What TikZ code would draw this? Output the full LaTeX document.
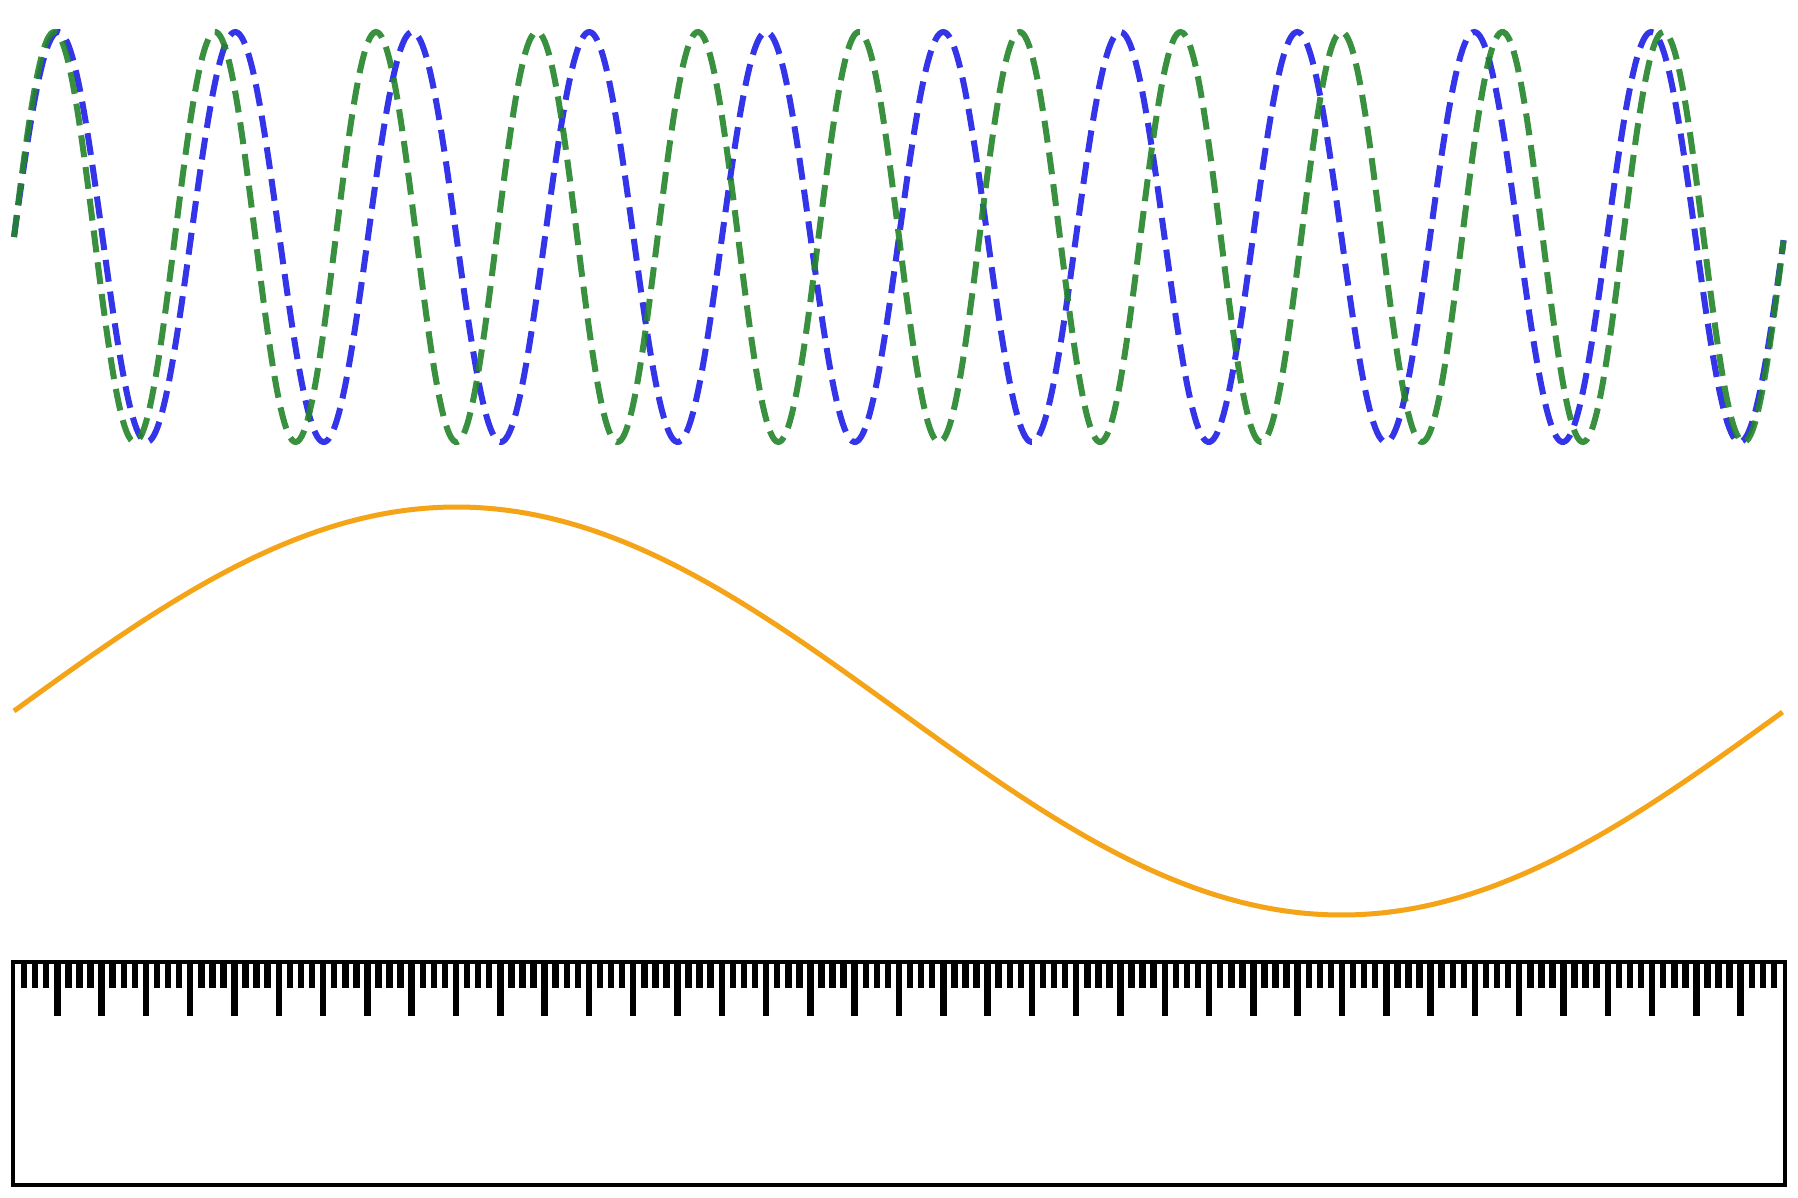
\documentclass[tikz,border=0pt]{standalone}
\usepackage{tikz}
\usetikzlibrary{positioning}
\definecolor{wavegreen}{RGB}{36,132,42}
\definecolor{waveblue}{RGB}{52,52,232}
\definecolor{beatorange}{RGB}{244,164,22}

\begin{document}
\begin{tikzpicture}[x=1pt, y=-1pt,
  wave/.style={line width=6pt, dash pattern=on 22pt off 10pt},
  fastwave/.style={wave, draw=wavegreen, opacity=0.9},
  slowwave/.style={wave, draw=waveblue},
  beat/.style={line width=5pt, draw=beatorange},
  rulerbox/.style={line width=4.5pt, draw=black},
  tickmark/.style={line width=6.5pt, draw=black}]
  \useasboundingbox (0,0) rectangle (1798,1198);
  \fill[white] (0,0) rectangle (1798,1198);
  \draw[slowwave] plot[domain=0:1, samples=900] ({14+1770*\x}, {237-205*sin(3600*\x)});
  \draw[fastwave] plot[domain=0:1, samples=900] ({14+1770*\x}, {237-205*sin(3960*\x)});
  \draw[beat] plot[domain=0:1, samples=300] ({14+1770*\x}, {711-204*sin(360*\x)});
  \coordinate (rtl) at (13,962);
  \coordinate (rbr) at (1785,1185);
  \draw[rulerbox] (rtl) rectangle (rbr);
  \foreach \i in {1,...,159} {
    \pgfmathsetmacro{\tx}{13+11.075*\i}
    \pgfmathsetmacro{\tl}{mod(\i,4)==0 ? 1016 : 988}
    \draw[tickmark] (\tx,962) -- (\tx,\tl);
  }
\end{tikzpicture}
\end{document}
